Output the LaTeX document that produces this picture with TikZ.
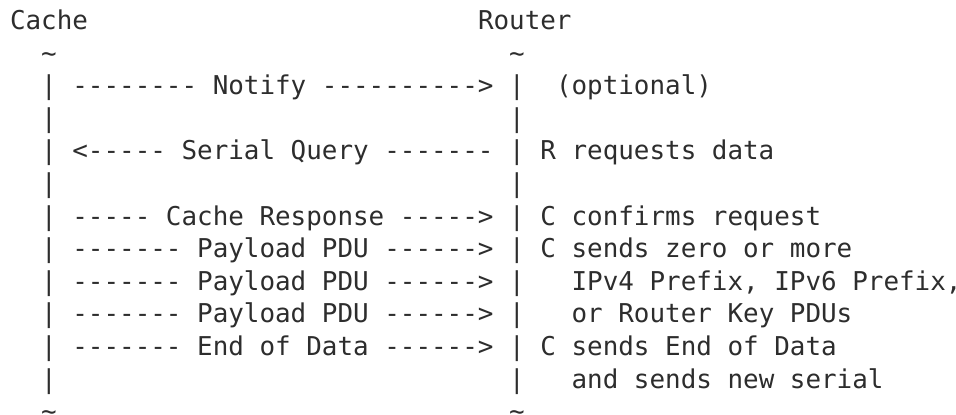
\documentclass[tikz,border=0pt]{standalone}
\usepackage{fontspec}
\setmonofont{DejaVu Sans Mono}
\definecolor{ink}{RGB}{45,45,45}
\tikzset{
  ascii/.style={anchor=base west, inner sep=0pt, outer sep=0pt, text=ink,
    font=\ttfamily\fontsize{19.43pt}{24pt}\selectfont}
}
% #1 name, #2 column, #3 row, #4 text
\newcommand{\cell}[4]{\node[ascii] (#1) at ({10+15.6*#2},{29.5+32.6*#3}) {#4};}
\begin{document}
\begin{tikzpicture}[x=0.75pt,y=-0.75pt]
\fill[white] (0,0) rectangle (956,414);
\useasboundingbox (0,0) rectangle (956,414);
% headers
\cell{cache}{0}{0}{Cache}
\cell{router}{30}{0}{Router}
% top tildes
\cell{lt1}{2}{1}{\textasciitilde}
\cell{rt1}{32}{1}{\textasciitilde}
% row 2
\cell{l2}{2}{2}{|}
\cell{m2}{4}{2}{-------- Notify ---------->}
\cell{r2}{32}{2}{|}
\cell{n2}{35}{2}{(optional)}
% row 3
\cell{l3}{2}{3}{|}
\cell{r3}{32}{3}{|}
% row 4
\cell{l4}{2}{4}{|}
\cell{m4}{4}{4}{<----- Serial Query -------}
\cell{r4}{32}{4}{|}
\cell{n4}{34}{4}{R requests data}
% row 5
\cell{l5}{2}{5}{|}
\cell{r5}{32}{5}{|}
% row 6
\cell{l6}{2}{6}{|}
\cell{m6}{4}{6}{----- Cache Response ----->}
\cell{r6}{32}{6}{|}
\cell{n6}{34}{6}{C confirms request}
% row 7
\cell{l7}{2}{7}{|}
\cell{m7}{4}{7}{------- Payload PDU ------>}
\cell{r7}{32}{7}{|}
\cell{n7}{34}{7}{C sends zero or more}
% row 8
\cell{l8}{2}{8}{|}
\cell{m8}{4}{8}{------- Payload PDU ------>}
\cell{r8}{32}{8}{|}
\cell{n8}{36}{8}{IPv4 Prefix, IPv6 Prefix,}
% row 9
\cell{l9}{2}{9}{|}
\cell{m9}{4}{9}{------- Payload PDU ------>}
\cell{r9}{32}{9}{|}
\cell{n9}{36}{9}{or Router Key PDUs}
% row 10
\cell{l10}{2}{10}{|}
\cell{m10}{4}{10}{------- End of Data ------>}
\cell{r10}{32}{10}{|}
\cell{n10}{34}{10}{C sends End of Data}
% row 11
\cell{l11}{2}{11}{|}
\cell{r11}{32}{11}{|}
\cell{n11}{36}{11}{and sends new serial}
% bottom tildes
\cell{lt12}{2}{12}{\textasciitilde}
\cell{rt12}{32}{12}{\textasciitilde}
\end{tikzpicture}
\end{document}
